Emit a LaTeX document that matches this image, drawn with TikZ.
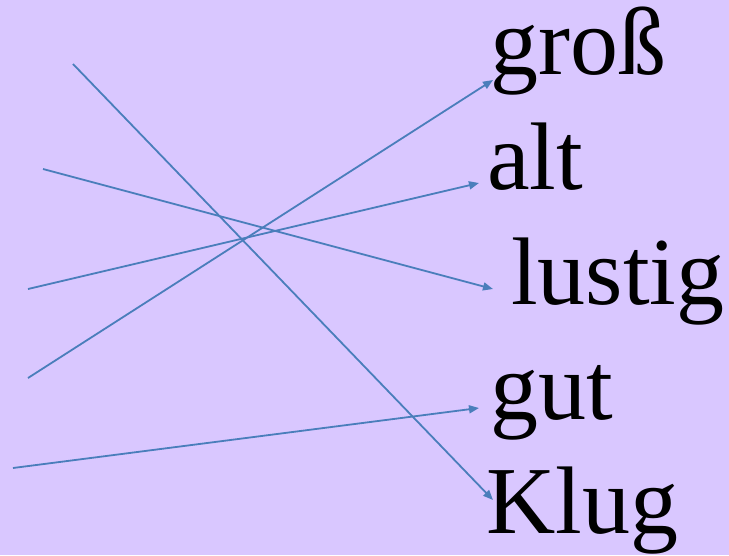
\documentclass[tikz,border=0pt]{standalone}
\usepackage{fontspec}
\setmainfont{Liberation Serif}
\usetikzlibrary{arrows.meta}
\definecolor{lavender}{RGB}{217,199,255}
\definecolor{linkblue}{RGB}{74,126,187}
\tikzset{
	word/.style={anchor=base west, inner sep=0pt, font=\fontsize{96}{100}\selectfont},
	link/.style={draw=linkblue, line width=1.8pt, -{Triangle[length=10pt, width=8pt]}}
}

\begin{document}
\begin{tikzpicture}[x=1pt, y=-1pt]
	\fill[lavender] (0,0) rectangle (729,555);
	\useasboundingbox (0,0) rectangle (729,555);
		% words
		\node[word] (w1) at (490, 74) {groß};
		\node[word] (w2) at (487,189) {alt};
		\node[word] (w3) at (511,304) {lustig};
		\node[word] (w4) at (490,419) {gut};
		\node[word] (w5) at (486,533) {Klug};
		% loose ends on the left
		\coordinate (s1) at (73, 64);
		\coordinate (s2) at (43,169);
		\coordinate (s3) at (28,289);
		\coordinate (s4) at (28,378);
		\coordinate (s5) at (13,468);
		% arrow tips next to the words
		\coordinate (e1) at (493,500);
		\coordinate (e2) at (493,289);
		\coordinate (e3) at (479,183);
		\coordinate (e4) at (493, 80);
		\coordinate (e5) at (479,408);
		% links
		\draw[link] (s1) -- (e1);
		\draw[link] (s2) -- (e2);
		\draw[link] (s3) -- (e3);
		\draw[link] (s4) -- (e4);
		\draw[link] (s5) -- (e5);
	\end{tikzpicture}
\end{document}
